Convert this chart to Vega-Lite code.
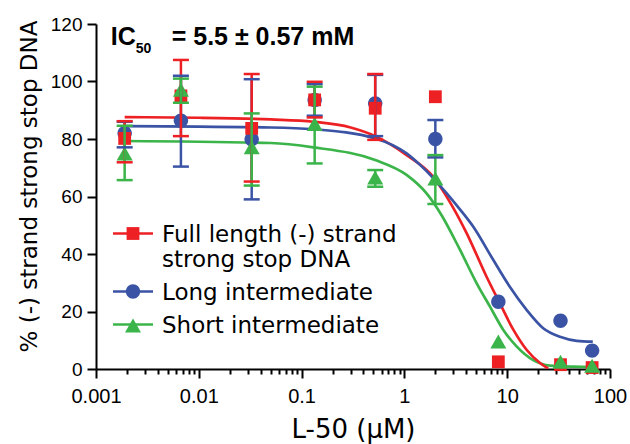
{
  "$schema": "https://vega.github.io/schema/vega-lite/v6.json",
  "width": 514,
  "height": 345,
  "autosize": "none",
  "padding": {"left": 96, "top": 24, "right": 20, "bottom": 75},
  "background": "white",
  "config": {
    "view": {"stroke": null},
    "axis": {
      "grid": false,
      "domainColor": "#000000",
      "domainWidth": 2,
      "tickColor": "#000000",
      "tickWidth": 2,
      "labelColor": "#000000",
      "labelFont": "Liberation Sans",
      "labelFontSize": 19,
      "titleColor": "#000000",
      "titleFont": "DejaVu Sans",
      "titleFontSize": 23,
      "titleFontWeight": "normal"
    },
    "legend": {
      "title": null,
      "orient": "none",
      "padding": 0,
      "symbolSize": 1600,
      "symbolStrokeWidth": 2.7,
      "labelFont": "DejaVu Sans",
      "labelFontSize": 23,
      "labelColor": "#000000",
      "labelOffset": 6,
      "labelLimit": 500,
      "labelBaseline": "alphabetic",
      "rowPadding": 6
    }
  },
  "datasets": {
    "points": [
      {"series": "Long intermediate", "x": 0.0019, "y": 82.0, "lo": 77.1, "hi": 86.0},
      {"series": "Long intermediate", "x": 0.0067, "y": 86.4, "lo": 70.4, "hi": 102.0},
      {"series": "Long intermediate", "x": 0.0327, "y": 79.9, "lo": 59.0, "hi": 100.8},
      {"series": "Long intermediate", "x": 0.134, "y": 93.6, "lo": 88.1, "hi": 99.1},
      {"series": "Long intermediate", "x": 0.52, "y": 92.4, "lo": 81.0, "hi": 102.3},
      {"series": "Long intermediate", "x": 2.0, "y": 80.0, "lo": 73.6, "hi": 86.6},
      {"series": "Long intermediate", "x": 8.2, "y": 23.4, "lo": null, "hi": null},
      {"series": "Long intermediate", "x": 33, "y": 16.8, "lo": null, "hi": null},
      {"series": "Long intermediate", "x": 67, "y": 6.4, "lo": null, "hi": null},
      {"series": "Full length (-) strand strong stop DNA", "x": 0.0019, "y": 80.2, "lo": 71.9, "hi": 86.2},
      {"series": "Full length (-) strand strong stop DNA", "x": 0.0067, "y": 95.0, "lo": 81.0, "hi": 107.5},
      {"series": "Full length (-) strand strong stop DNA", "x": 0.0327, "y": 83.7, "lo": 65.2, "hi": 102.6},
      {"series": "Full length (-) strand strong stop DNA", "x": 0.134, "y": 93.6, "lo": 87.5, "hi": 99.9},
      {"series": "Full length (-) strand strong stop DNA", "x": 0.52, "y": 90.7, "lo": 79.7, "hi": 102.6},
      {"series": "Full length (-) strand strong stop DNA", "x": 2.0, "y": 94.7, "lo": null, "hi": null},
      {"series": "Full length (-) strand strong stop DNA", "x": 8.2, "y": 2.5, "lo": null, "hi": null},
      {"series": "Full length (-) strand strong stop DNA", "x": 33, "y": 1.5, "lo": null, "hi": null},
      {"series": "Full length (-) strand strong stop DNA", "x": 67, "y": 0.5, "lo": null, "hi": null},
      {"series": "Short intermediate", "x": 0.0019, "y": 74.6, "lo": 65.7, "hi": 84.6},
      {"series": "Short intermediate", "x": 0.0067, "y": 96.8, "lo": 92.6, "hi": 101.0},
      {"series": "Short intermediate", "x": 0.0327, "y": 76.8, "lo": 63.8, "hi": 88.9},
      {"series": "Short intermediate", "x": 0.134, "y": 84.9, "lo": 71.5, "hi": 98.2},
      {"series": "Short intermediate", "x": 0.52, "y": 66.3, "lo": 63.4, "hi": 69.2},
      {"series": "Short intermediate", "x": 2.0, "y": 65.9, "lo": 57.4, "hi": 74.4},
      {"series": "Short intermediate", "x": 8.2, "y": 9.2, "lo": null, "hi": null},
      {"series": "Short intermediate", "x": 33, "y": 2.2, "lo": null, "hi": null},
      {"series": "Short intermediate", "x": 67, "y": 0.8, "lo": null, "hi": null}
    ],
    "curves": [
      {"series": "Short intermediate", "x": 0.0019, "y": 79.3},
      {"series": "Short intermediate", "x": 0.05, "y": 78.6},
      {"series": "Short intermediate", "x": 0.13, "y": 77.1},
      {"series": "Short intermediate", "x": 0.52, "y": 72.7},
      {"series": "Short intermediate", "x": 1.05, "y": 67.5},
      {"series": "Short intermediate", "x": 1.65, "y": 61.0},
      {"series": "Short intermediate", "x": 2.3, "y": 53.5},
      {"series": "Short intermediate", "x": 3.48, "y": 41.4},
      {"series": "Short intermediate", "x": 5.05, "y": 29.8},
      {"series": "Short intermediate", "x": 6.8, "y": 21.7},
      {"series": "Short intermediate", "x": 9.17, "y": 13.6},
      {"series": "Short intermediate", "x": 12.4, "y": 7.8},
      {"series": "Short intermediate", "x": 17.9, "y": 3.1},
      {"series": "Short intermediate", "x": 26.1, "y": 1.2},
      {"series": "Short intermediate", "x": 44, "y": 0.8},
      {"series": "Short intermediate", "x": 68, "y": 0.7},
      {"series": "Full length (-) strand strong stop DNA", "x": 0.0019, "y": 87.6},
      {"series": "Full length (-) strand strong stop DNA", "x": 0.01, "y": 87.4},
      {"series": "Full length (-) strand strong stop DNA", "x": 0.05, "y": 86.8},
      {"series": "Full length (-) strand strong stop DNA", "x": 0.13, "y": 86.0},
      {"series": "Full length (-) strand strong stop DNA", "x": 0.3, "y": 84.0},
      {"series": "Full length (-) strand strong stop DNA", "x": 0.52, "y": 81.0},
      {"series": "Full length (-) strand strong stop DNA", "x": 1.05, "y": 74.4},
      {"series": "Full length (-) strand strong stop DNA", "x": 1.9, "y": 66.9},
      {"series": "Full length (-) strand strong stop DNA", "x": 2.8, "y": 57.8},
      {"series": "Full length (-) strand strong stop DNA", "x": 4.04, "y": 47.2},
      {"series": "Full length (-) strand strong stop DNA", "x": 6.3, "y": 32.1},
      {"series": "Full length (-) strand strong stop DNA", "x": 8.5, "y": 22.8},
      {"series": "Full length (-) strand strong stop DNA", "x": 11.5, "y": 13.6},
      {"series": "Full length (-) strand strong stop DNA", "x": 15.5, "y": 6.6},
      {"series": "Full length (-) strand strong stop DNA", "x": 21, "y": 2.0},
      {"series": "Full length (-) strand strong stop DNA", "x": 25, "y": 0.2},
      {"series": "Long intermediate", "x": 0.0019, "y": 84.5},
      {"series": "Long intermediate", "x": 0.05, "y": 84.0},
      {"series": "Long intermediate", "x": 0.13, "y": 83.4},
      {"series": "Long intermediate", "x": 0.52, "y": 80.2},
      {"series": "Long intermediate", "x": 1.05, "y": 75.0},
      {"series": "Long intermediate", "x": 1.42, "y": 71.0},
      {"series": "Long intermediate", "x": 2.58, "y": 61.1},
      {"series": "Long intermediate", "x": 3.3, "y": 56.5},
      {"series": "Long intermediate", "x": 4.68, "y": 49.5},
      {"series": "Long intermediate", "x": 7.33, "y": 37.9},
      {"series": "Long intermediate", "x": 10.6, "y": 28.6},
      {"series": "Long intermediate", "x": 15.5, "y": 20.5},
      {"series": "Long intermediate", "x": 22.4, "y": 14.2},
      {"series": "Long intermediate", "x": 32.6, "y": 11.2},
      {"series": "Long intermediate", "x": 47.4, "y": 9.8},
      {"series": "Long intermediate", "x": 68, "y": 9.5}
    ],
    "note": [
      {"role": "main", "text": "IC", "x": 0.00139, "y": 112.7},
      {"role": "sub", "text": "50", "x": 0.00243, "y": 109.9},
      {"role": "main", "text": "= 5.5 ± 0.57 mM", "x": 0.00545, "y": 112.7}
    ]
  },
  "encoding": {
    "x": {
      "field": "x",
      "type": "quantitative",
      "scale": {"type": "log", "domain": [0.001, 100], "nice": false},
      "axis": {
        "title": "L-50 (μM)",
        "titleFontSize": 26,
        "labelFontSize": 20,
        "values": [0.001,0.002,0.003,0.004,0.005,0.006,0.007,0.008,0.009,0.01,0.02,0.03,0.04,0.05,0.06,0.07,0.08,0.09,0.1,0.2,0.3,0.4,0.5,0.6,0.7,0.8,0.9,1,2,3,4,5,6,7,8,9,10,20,30,40,50,60,70,80,90,100],
        "labelExpr": "abs(log(datum.value)/LN10 - round(log(datum.value)/LN10)) < 0.001 ? '' + datum.value : ''",
        "tickSize": {"condition": {"test": "abs(log(datum.value)/LN10 - round(log(datum.value)/LN10)) < 0.001", "value": 9}, "value": 5},
        "labelOverlap": false,
        "labelFlush": false,
        "labelPadding": 8,
        "titlePadding": 10
      }
    },
    "y": {
      "field": "y",
      "type": "quantitative",
      "title": "% (-) strand strong stop DNA",
      "scale": {"domain": [0, 120], "nice": false, "zero": false},
      "axis": {
        "title": "% (-) strand strong stop DNA",
        "values": [0, 20, 40, 60, 80, 100, 120],
        "tickSize": 9,
        "labelPadding": 5,
        "titlePadding": 9,
        "titleY": 162
      }
    }
  },
  "layer": [
    {
      "data": {"name": "curves"},
      "mark": {"type": "line", "interpolate": "monotone", "strokeWidth": 2.7, "clip": true},
      "encoding": {
        "stroke": {"field": "series", "type": "nominal",
          "sort": ["Full length (-) strand strong stop DNA", "Long intermediate", "Short intermediate"],
          "scale": {"range": ["#ED2024", "#3A53A4", "#3BB44A"]},
          "legend": {
            "legendX": 15.5,
            "legendY": 188,
            "symbolType": "stroke",
            "symbolStrokeWidth": 2.7,
            "labelOpacity": 0,
            "labelExpr": "datum.value === 'Full length (-) strand strong stop DNA' ? ['', ''] : ''"
          }
        }
      }
    },
    {
      "data": {"name": "points"},
      "mark": {"type": "point", "filled": true, "opacity": 1, "strokeWidth": 0, "size": 1600},
      "encoding": {
        "color": {"field": "series", "type": "nominal",
          "scale": {"domain": ["Full length (-) strand strong stop DNA", "Long intermediate", "Short intermediate"], "range": ["#ED2024", "#3A53A4", "#3BB44A"]},
          "legend": {
            "legendX": 15.5,
            "legendY": 188,
            "labelOpacity": 0,
            "labelExpr": "datum.value === 'Full length (-) strand strong stop DNA' ? ['', ''] : ''"
          }
        },
        "shape": {"field": "series", "type": "nominal",
          "scale": {"domain": ["Full length (-) strand strong stop DNA", "Long intermediate", "Short intermediate"],
            "range": ["M-0.32,-0.32H0.32V0.32H-0.32Z", "M0.36,0A0.36,0.36 0 1 1 -0.36,0A0.36,0.36 0 1 1 0.36,0Z", "M0,-0.4L0.4,0.3H-0.4Z"]},
          "legend": {
            "legendX": 15.5,
            "legendY": 188,
            "labelOpacity": 0,
            "labelExpr": "datum.value === 'Full length (-) strand strong stop DNA' ? ['', ''] : ''"
          }
        }
      }
    },
    {
      "data": {"name": "points"},
      "transform": [{"filter": "isValid(datum.lo)"}],
      "mark": {"type": "rule", "strokeWidth": 2.5},
      "encoding": {
        "y": {"field": "lo", "type": "quantitative", "title": "% (-) strand strong stop DNA"},
        "y2": {"field": "hi"},
        "stroke": {"field": "series", "type": "nominal",
          "sort": ["Full length (-) strand strong stop DNA", "Long intermediate", "Short intermediate"]}
      }
    },
    {
      "data": {"name": "points"},
      "transform": [{"filter": "isValid(datum.lo)"}],
      "mark": {"type": "tick", "orient": "horizontal", "size": 16, "thickness": 2.5, "opacity": 1},
      "encoding": {
        "y": {"field": "lo", "type": "quantitative", "title": "% (-) strand strong stop DNA"},
        "fill": {"field": "series", "type": "nominal",
          "sort": ["Full length (-) strand strong stop DNA", "Long intermediate", "Short intermediate"],
          "scale": {"range": ["#ED2024", "#3A53A4", "#3BB44A"]},
          "legend": {
            "legendX": 17,
            "legendY": 196,
            "symbolOpacity": 0,
            "symbolType": "M0,0Z",
            "labelExpr": "datum.value === 'Full length (-) strand strong stop DNA' ? ['Full length (-) strand', 'strong stop DNA'] : datum.label"
          }
        }
      }
    },
    {
      "data": {"name": "points"},
      "transform": [{"filter": "isValid(datum.hi)"}],
      "mark": {"type": "tick", "orient": "horizontal", "size": 16, "thickness": 2.5, "opacity": 1},
      "encoding": {
        "y": {"field": "hi", "type": "quantitative", "title": "% (-) strand strong stop DNA"},
        "fill": {"field": "series", "type": "nominal",
          "sort": ["Full length (-) strand strong stop DNA", "Long intermediate", "Short intermediate"]}
      }
    },
    {
      "data": {"name": "note"},
      "transform": [{"filter": "datum.role === 'main'"}],
      "mark": {"type": "text", "align": "left", "baseline": "alphabetic", "font": "Liberation Sans", "fontWeight": "bold", "fontSize": 25, "color": "#000000"},
      "encoding": {"text": {"field": "text"}}
    },
    {
      "data": {"name": "note"},
      "transform": [{"filter": "datum.role === 'sub'"}],
      "mark": {"type": "text", "align": "left", "baseline": "alphabetic", "font": "Liberation Sans", "fontWeight": "bold", "fontSize": 14, "color": "#000000"},
      "encoding": {"text": {"field": "text"}}
    }
  ]
}
